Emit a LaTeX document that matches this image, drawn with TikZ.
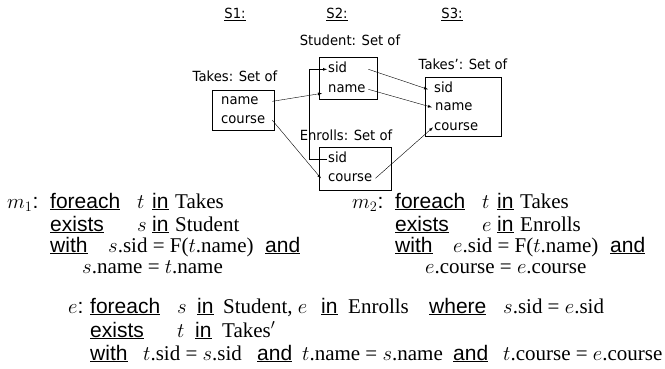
\documentclass[tikz,border=0pt]{standalone}
\usepackage{fontspec}
\setmainfont{Liberation Serif}
\setsansfont{Liberation Sans}
\newfontfamily\lblfont[FakeStretch=0.94]{DejaVu Sans}
\usetikzlibrary{arrows}
\newcommand{\kw}[1]{\underline{\textsf{#1}}}
\newcommand{\cell}[2]{\makebox[#1][l]{#2}}

\begin{document}
\begin{tikzpicture}[x=1pt,y=-1pt]
            \tikzstyle{setbox}=[draw, line width=0.8pt, inner sep=0pt]
            \tikzstyle{field}=[anchor=base west, inner xsep=1pt, inner ysep=0pt, font=\lblfont\fontsize{14}{16}\selectfont, text height=1.8ex, text depth=.2ex]
            \tikzstyle{settitle}=[anchor=base, inner sep=0pt, font=\lblfont\fontsize{14}{16}\selectfont]
            \tikzstyle{link}=[thin, -latex]
            \tikzstyle{mapline}=[anchor=base west, inner sep=0pt, font=\fontsize{21}{24}\selectfont]

            \useasboundingbox (0,0) rectangle (665,369);

            % schema headers
            \node[settitle] (s1) at (235,19) {\underline{S1:}};
            \node[settitle] (s2) at (337,19) {\underline{S2:}};
            \node[settitle] (s3) at (452,19) {\underline{S3:}};

            % set titles
            \node[settitle] (takesT) at (235,82) {Takes: Set of};
            \node[settitle] (studT) at (350,46) {Student: Set of};
            \node[settitle] (enrT) at (346,140) {Enrolls: Set of};
            \node[settitle] (takespT) at (463,70) {Takes’: Set of};

            % boxes
            \node[setbox, minimum width=62pt, minimum height=40pt] (takes) at (243,110) {};
            \node[setbox, minimum width=58pt, minimum height=42pt] (stud) at (348,78) {};
            \node[setbox, minimum width=72pt, minimum height=43pt] (enr) at (355,168.5) {};
            \node[setbox, minimum width=76pt, minimum height=59pt] (takesp) at (463,106.5) {};

            % fields
            \node[field, text width=50pt] (tname) at (220,105) {name};
            \node[field, text width=50pt] (tcourse) at (220,124) {course};
            \node[field, text width=39pt] (ssid) at (327,73) {sid};
            \node[field, text width=39pt] (sname) at (327,93) {name};
            \node[field, text width=46pt] (esid) at (327,163) {sid};
            \node[field, text width=46pt] (ecourse) at (327,182) {course};
            \node[field] (tpsid) at (433,93) {sid};
            \node[field] (tpname) at (434,111) {name};
            \node[field] (tpcourse) at (433,131) {course};

            % correspondences
            \draw[link] (tname.east) -- ([xshift=-5pt,yshift=-4pt]sname.west);
            \draw[link] (tcourse.east) -- ([xshift=-6pt]ecourse.west);
            \draw[link] (esid.west) -- ++(-18,0) |- (ssid.west);
            \draw[link] (ssid.east) -- ([xshift=-5pt]tpsid.west);
            \draw[link] (sname.east) -- ([xshift=-2pt]tpname.west);
            \draw[link] (ecourse.east) -- (tpcourse.west);

            % mapping m1
            \node[mapline] (m1a) at (7,208) {\cell{43pt}{$m_1$\textsf{:}}\cell{87pt}{\kw{foreach}}\cell{15pt}{$t$}\cell{23pt}{\kw{in}}Takes};
            \node[mapline] (m1b) at (50,231) {\cell{87pt}{\kw{exists}}\cell{15pt}{$s$}\cell{23pt}{\kw{in}}Student};
            \node[mapline] (m1c) at (50,252) {\cell{58pt}{\kw{with}}\cell{157pt}{$s$.sid = F($t$.name)}\kw{and}};
            \node[mapline] (m1d) at (82,273) {$s$.name = $t$.name};

            % mapping m2
            \node[mapline] (m2a) at (352,208) {\cell{43pt}{$m_2$\textsf{:}}\cell{87pt}{\kw{foreach}}\cell{15pt}{$t$}\cell{23pt}{\kw{in}}Takes};
            \node[mapline] (m2b) at (395,231) {\cell{87pt}{\kw{exists}}\cell{15pt}{$e$}\cell{23pt}{\kw{in}}Enrolls};
            \node[mapline] (m2c) at (395,252) {\cell{58pt}{\kw{with}}\cell{157pt}{$e$.sid = F($t$.name)}\kw{and}};
            \node[mapline] (m2d) at (425,273) {$e$.course = $e$.course};

            % mapping e
            \node[mapline] (ea) at (68,313) {\cell{22pt}{$e$\textsf{:}}\cell{87pt}{\kw{foreach}}\cell{20pt}{$s$}\cell{26pt}{\kw{in}}\cell{98pt}{Student, $e$}\cell{27pt}{\kw{in}}\cell{81pt}{Enrolls}\cell{74pt}{\kw{where}}$s$.sid = $e$.sid};
            \node[mapline] (eb) at (90,337) {\cell{87pt}{\kw{exists}}\cell{18pt}{$t$}\cell{27pt}{\kw{in}}Takes$'$};
            \node[mapline] (ec) at (90,360) {\cell{53pt}{\kw{with}}\cell{114pt}{$t$.sid = $s$.sid}\cell{45pt}{\kw{and}}\cell{151pt}{$t$.name = $s$.name}\cell{50pt}{\kw{and}}$t$.course = $e$.course};
\end{tikzpicture}
\end{document}
